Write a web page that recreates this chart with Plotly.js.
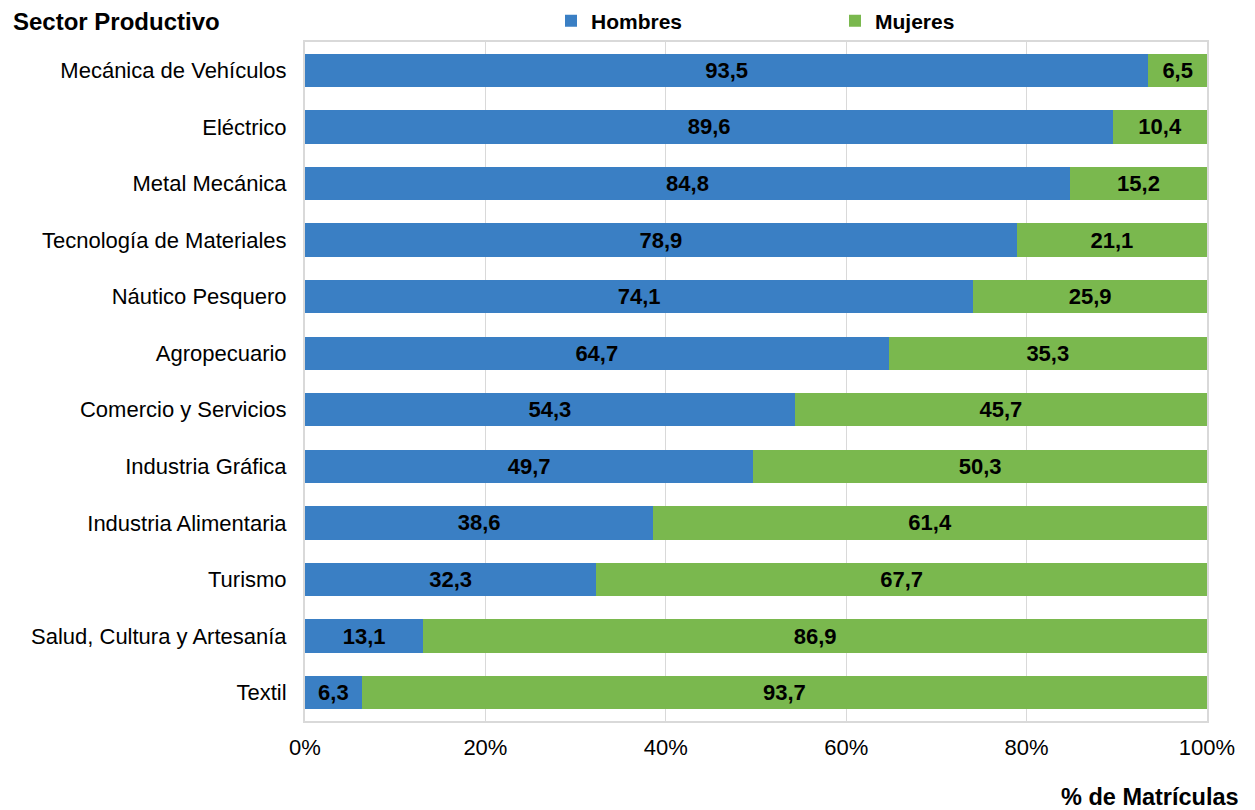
<!DOCTYPE html>
<html>
<head>
<meta charset="utf-8">
<script src="https://cdn.plot.ly/plotly-3.0.1.min.js"></script>
<style>html,body{margin:0;padding:0;background:#fff;}#chart{width:1255px;height:810px;}</style>
</head>
<body>
<div id="chart"></div>
<script>
var sectores = ["Mecánica de Vehículos","Eléctrico","Metal Mecánica","Tecnología de Materiales","Náutico Pesquero","Agropecuario","Comercio y Servicios","Industria Gráfica","Industria Alimentaria","Turismo","Salud, Cultura y Artesanía","Textil"];
var hombres = [93.5,89.6,84.8,78.9,74.1,64.7,54.3,49.7,38.6,32.3,13.1,6.3];
var mujeres = [6.5,10.4,15.2,21.1,25.9,35.3,45.7,50.3,61.4,67.7,86.9,93.7];
var xTicks = [0,20,40,60,80,100];
var xTickText = ["0%","20%","40%","60%","80%","100%"];

var font = "Liberation Sans, Arial, sans-serif";
function mk(name, vals, color){
  return {
    type:'bar', orientation:'h', name:name, x:vals, y:sectores,
    marker:{color:color, line:{width:0}},
    texttemplate:'%{x:.1f}', textposition:'inside', insidetextanchor:'middle',
    textangle:0, constraintext:'none',
    textfont:{family:font, size:22, color:'#000', weight:'bold'},
    hoverinfo:'x+y'
  };
}
var data = [mk('Hombres', hombres, '#3A7FC4'), mk('Mujeres', mujeres, '#7AB84E')];
var L = 305, T = 42, W = 902, H = 679;
var layout = {
  width:1255, height:810,
  margin:{l:L, r:48, t:T, b:89, autoexpand:false},
  barmode:'stack', bargap:0.41,
  separators:',.',
  paper_bgcolor:'#fff', plot_bgcolor:'#fff',
  font:{family:font, size:22, color:'#000'},
  showlegend:true,
  legend:{orientation:'h', traceorder:'normal', x:(551-L)/W, y:1+(T-21)/H, xanchor:'left', yanchor:'middle',
    entrywidth:239, entrywidthmode:'pixels', itemwidth:30,
    font:{family:font, size:21, color:'#000', weight:'bold'}, bgcolor:'rgba(0,0,0,0)'},
  xaxis:{range:[0,100], tickvals:xTicks, ticktext:xTickText, showgrid:true, gridcolor:'#d9d9d9', gridwidth:1,
    zeroline:false, showline:true, mirror:true, linecolor:'#d9d9d9', linewidth:2,
    ticks:'', ticklabelstandoff:6, tickfont:{family:font, size:22, color:'#000'}, fixedrange:true},
  yaxis:{autorange:'reversed', type:'category', showgrid:false, zeroline:false,
    showline:true, mirror:true, linecolor:'#d9d9d9', linewidth:2, ticks:'', ticklabelstandoff:12,
    tickfont:{family:font, size:22, color:'#000'}, fixedrange:true},
  annotations:[
    {text:'Sector Productivo', xref:'paper', yref:'paper', x:-(L-11)/W, xanchor:'left', y:1+(T-21)/H, yanchor:'middle',
     showarrow:false, font:{family:font, size:24, color:'#000', weight:'bold'}},
    {text:'% de Matrículas', xref:'paper', yref:'paper', x:1+(1241-1207)/W, xanchor:'right', y:-(797-721)/H, yanchor:'middle',
     showarrow:false, font:{family:font, size:23.5, color:'#000', weight:'bold'}}
  ]
};
Plotly.newPlot('chart', data, layout, {displayModeBar:false, staticPlot:true});
</script>
</body>
</html>
